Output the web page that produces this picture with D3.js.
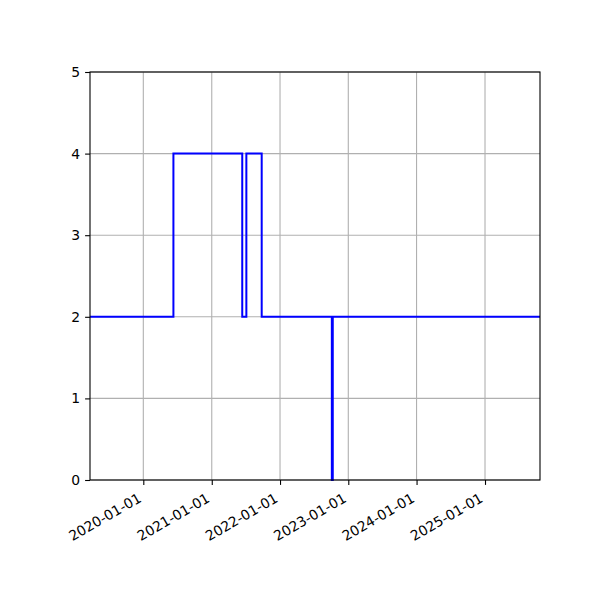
<!DOCTYPE html>
<html lang="en">
<head>
  <meta charset="UTF-8">
  <title>Step chart</title>
  <script src="https://d3js.org/d3.v7.min.js"></script>
  <style>
    body { margin: 0; background: #fff; }
    text { font-family: "DejaVu Sans", sans-serif; font-size: 13.9px; fill: #000; }
    .grid line { stroke: #b0b0b0; stroke-width: 1.1px; }
    .line { fill: none; stroke: #0000ff; stroke-width: 2px; }
  </style>
</head>
<body>
  <div id="chart"></div>
  <script>
    // step values (steps-post)
    const dates = ["2019-03-22", "2020-06-10", "2021-06-13", "2021-07-05", "2021-09-25",
                   "2022-10-05", "2022-10-10", "2025-10-22"];
    const values = [2, 4, 2, 4, 2, 0, 2, 2];
    const xTickLabels = ["2020-01-01", "2021-01-01", "2022-01-01", "2023-01-01", "2024-01-01", "2025-01-01"];
    const yTicks = [0, 1, 2, 3, 4, 5];

    const width = 600, height = 600;
    const margin = { top: 72, right: 60, bottom: 120, left: 90 };

    const parse = d3.utcParse("%Y-%m-%d");
    const data = dates.map((d, i) => ({ date: parse(d), value: values[i] }));
    const xTicks = xTickLabels.map(parse);

    const svg = d3.select("#chart").append("svg")
      .attr("width", width)
      .attr("height", height);

    const x = d3.scaleUtc()
      .domain(d3.extent(data, d => d.date))
      .range([margin.left, width - margin.right]);

    const y = d3.scaleLinear()
      .domain([0, 5])
      .range([height - margin.bottom, margin.top]);

    // grid
    const grid = svg.append("g").attr("class", "grid");
    grid.selectAll(".gx").data(xTicks).enter().append("line")
      .attr("x1", d => x(d)).attr("x2", d => x(d))
      .attr("y1", margin.top).attr("y2", height - margin.bottom);
    grid.selectAll(".gy").data(yTicks).enter().append("line")
      .attr("x1", margin.left).attr("x2", width - margin.right)
      .attr("y1", d => y(d)).attr("y2", d => y(d));

    // step line
    const line = d3.line()
      .x(d => x(d.date))
      .y(d => y(d.value))
      .curve(d3.curveStepAfter);

    svg.append("path")
      .datum(data)
      .attr("class", "line")
      .attr("d", line);

    // axes
    const xAxis = d3.axisBottom(x)
      .tickValues(xTicks)
      .tickFormat(d3.utcFormat("%Y-%m-%d"))
      .tickSize(4.9)
      .tickPadding(4.9);

    const gx = svg.append("g")
      .attr("transform", `translate(0, ${height - margin.bottom})`)
      .call(xAxis);
    gx.select(".domain").remove();
    gx.selectAll(".tick line").attr("stroke", "#000").attr("stroke-width", 1.1);
    gx.selectAll(".tick text")
      .attr("y", 0).attr("dy", null)
      .attr("font-size", null).attr("font-family", null)
      .style("text-anchor", "end")
      .attr("transform", "translate(-1.5, 21) rotate(-30)");

    const yAxis = d3.axisLeft(y)
      .tickValues(yTicks)
      .tickFormat(d3.format("d"))
      .tickSize(4.9)
      .tickPadding(4.9);

    const gy = svg.append("g")
      .attr("transform", `translate(${margin.left}, 0)`)
      .call(yAxis);
    gy.select(".domain").remove();
    gy.selectAll(".tick line").attr("stroke", "#000").attr("stroke-width", 1.1);
    gy.selectAll(".tick text").attr("font-size", null).attr("font-family", null);

    // frame
    svg.append("rect")
      .attr("x", margin.left).attr("y", margin.top)
      .attr("width", width - margin.left - margin.right)
      .attr("height", height - margin.bottom - margin.top)
      .attr("fill", "none")
      .attr("stroke", "#000")
      .attr("stroke-width", 1.1);
  </script>
</body>
</html>
